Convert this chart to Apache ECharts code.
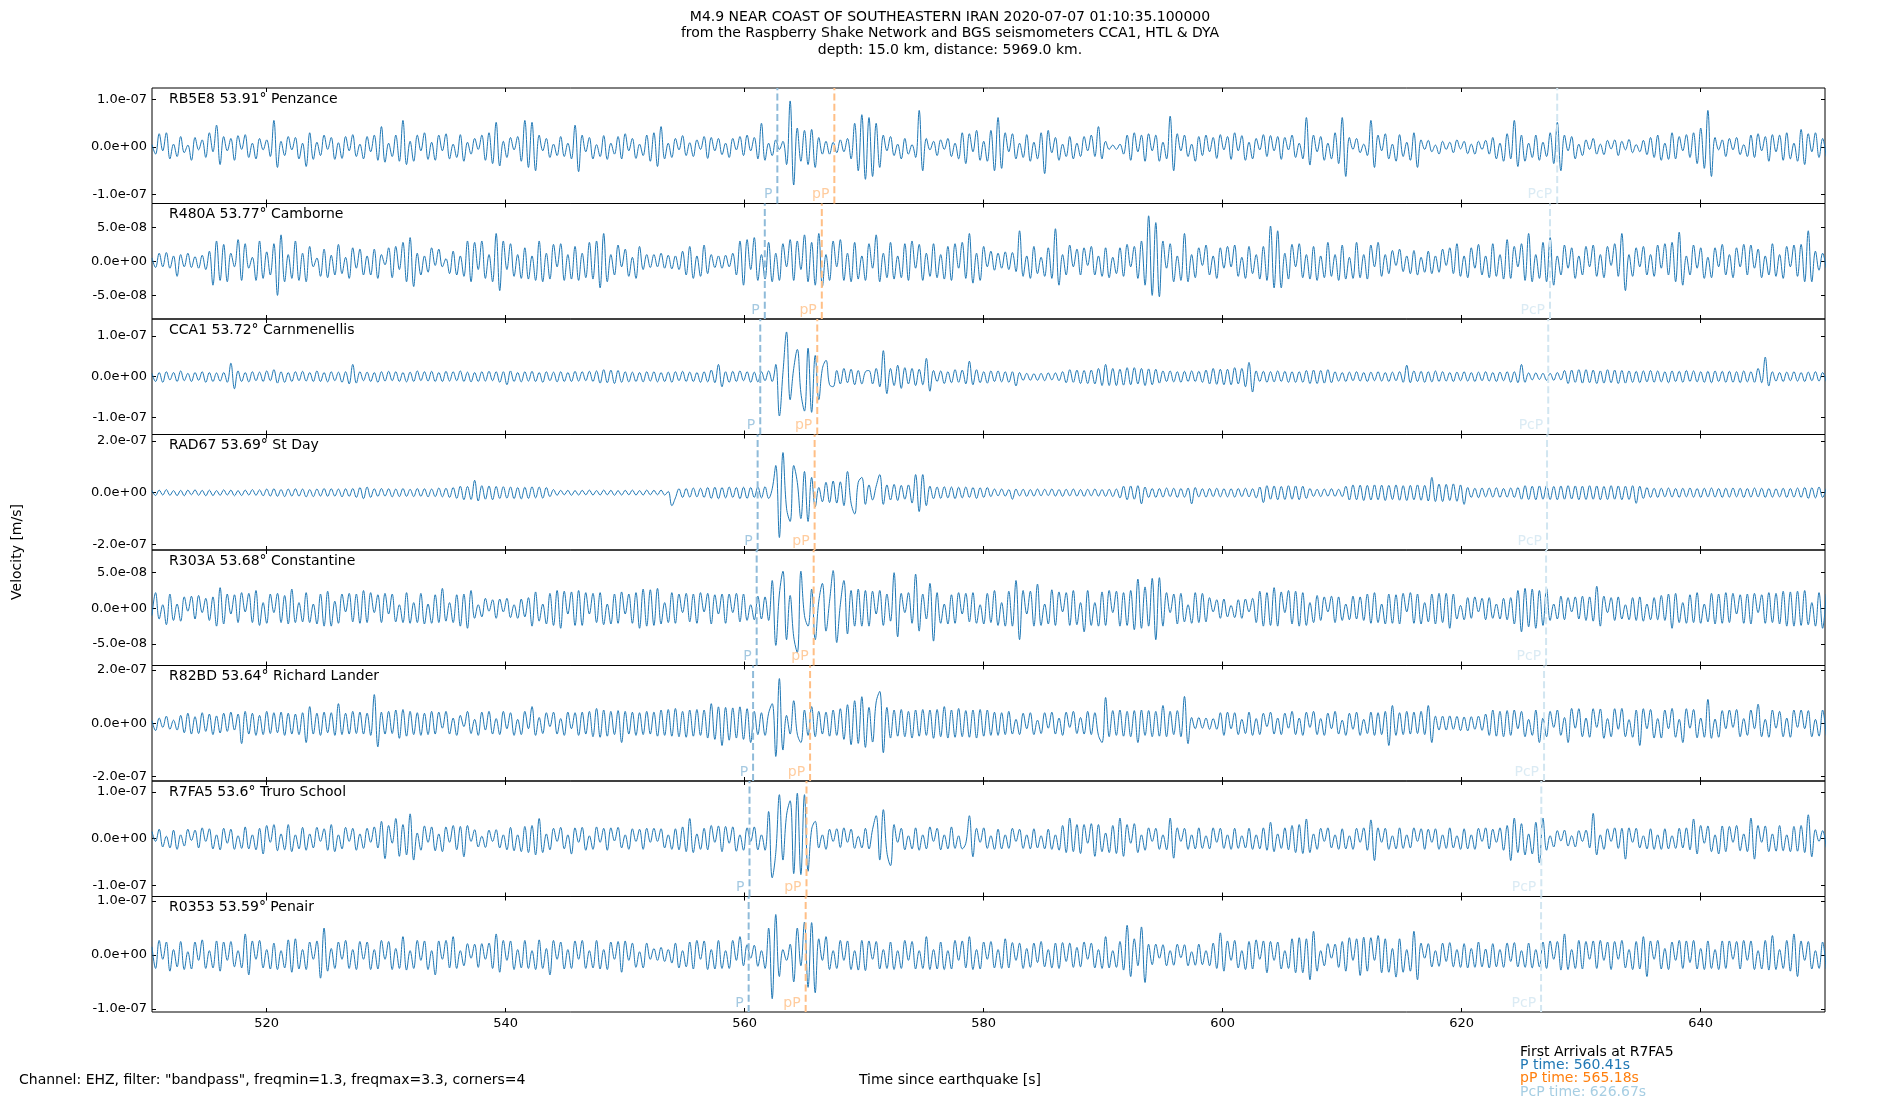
<!DOCTYPE html>
<html><head><meta charset="utf-8">
<script src="https://cdn.jsdelivr.net/npm/echarts@6/dist/echarts.min.js"></script>
<style>html,body{margin:0;padding:0;background:#fff}#chart{width:1900px;height:1100px}</style>
</head><body><div id="chart"></div>
<script>
// ---------------- data ----------------
const T0 = 510.41;          // time of first sample [s]
const DT = 0.3;             // sample spacing [s]
const X_MIN = 510.41, X_MAX = 650.41;
const X_TICKS = [520, 540, 560, 580, 600, 620, 640];
const STATIONS = ['RB5E8 53.91° Penzance','R480A 53.77° Camborne','CCA1 53.72° Carnmenellis','RAD67 53.69° St Day',
  'R303A 53.68° Constantine','R82BD 53.64° Richard Lander','R7FA5 53.6° Truro School','R0353 53.59° Penair'];
// y ranges and ticks in nm/s
const Y_MIN = [-118.9, -84.7, -142.6, -221.2, -80.2, -216, -124, -105.7];
const Y_MAX = [124.2, 85.1, 141.9, 224.7, 81.8, 217, 123.3, 108.4];
const Y_TICKS = [[-100,0,100],[-50,0,50],[-100,0,100],[-200,0,200],[-50,0,50],[-200,0,200],[-100,0,100],[-100,0,100]];
const P_TIMES   = [562.74, 561.69, 561.31, 561.09, 561.01, 560.71, 560.41, 560.34];
const PP_TIMES  = [567.51, 566.46, 566.08, 565.86, 565.78, 565.48, 565.18, 565.11];
const PCP_TIMES = [628.0, 627.4, 627.25, 627.15, 627.07, 626.9, 626.67, 626.65];
const ARRIVAL_NAMES = ['P', 'pP', 'PcP'];
const LEGEND_LINES = ['First Arrivals at R7FA5', 'P time: 560.41s', 'pP time: 565.18s', 'PcP time: 626.67s'];

// velocity traces, nm/s, one value every DT seconds from T0
const WAVE_RB5E8 = [
5,-15,28,-8,30,-25,6,-20,22,-12,4,-28,20,-6,15,-22,30,-10,46,-37,
22,-8,18,-28,24,-5,26,-22,8,-25,18,-6,15,-20,56,-43,12,-18,22,-6,
20,-25,8,-41,30,-26,10,-18,25,-5,20,-26,9,-24,22,-8,26,-20,6,-25,
22,-10,25,-28,43,-32,8,-20,25,-30,56,-37,12,-30,25,-8,30,-26,10,-28,
25,-8,28,-25,6,-22,26,-30,10,-15,18,-5,25,-28,30,-35,52,-40,12,-22,
20,-6,22,-30,56,-43,52,-50,25,-8,18,-22,6,-18,22,-20,8,-25,46,-52,
25,-10,20,-25,5,-20,24,-26,8,-15,22,-25,28,-8,18,-24,6,-18,25,-30,
30,-41,43,-25,8,-22,18,-6,24,-18,9,-20,15,-5,22,-24,20,-8,18,-16,
8,-22,18,-6,22,-18,25,-8,20,-25,50,-28,8,-18,15,-5,12,-37,97,-80,
40,-30,35,-37,37,-43,20,-15,12,-15,10,-12,15,-10,18,-25,50,-50,68,-68,
62,-62,50,-43,25,-8,22,-18,6,-25,18,-15,5,-22,77,-50,18,-6,12,-18,
15,-5,18,-20,8,-25,30,-35,28,-10,35,-28,12,-30,35,-50,62,-45,30,-10,
28,-25,8,-22,26,-30,10,-25,30,-56,35,-12,20,-28,6,-20,22,-25,8,-20,
22,-8,25,-20,43,-25,12,-5,4,-5,6,-15,25,-28,30,-10,25,-30,28,-8,
25,-30,10,-25,65,-50,28,-8,25,-20,6,-30,22,-18,25,-10,20,-24,26,-6,
22,-26,30,-8,24,-28,10,-25,18,-6,26,-20,24,-8,22,-26,20,-6,25,-22,
8,-25,62,-38,25,-10,22,-28,8,-25,30,-35,62,-62,20,-5,18,-12,6,-18,
56,-43,25,-8,28,-25,6,-30,26,-20,10,-28,30,-43,15,-5,14,-10,4,-15,
12,-5,10,-12,15,-4,12,-14,6,-15,12,-5,14,-15,20,-25,8,-30,28,-25,
56,-41,25,-30,8,-22,25,-28,10,-20,30,-35,52,-50,25,-8,22,-25,6,-18,
15,-5,18,-15,6,-16,14,-4,15,-18,12,-6,16,-12,5,-10,14,-16,20,-22,
25,-28,8,-26,30,-25,22,-8,26,-22,30,-35,40,-45,77,-62,20,-6,15,-20,
18,-6,20,-16,5,-20,25,-22,28,-8,22,-30,26,-10,25,-28,30,-25,8,-30,
37,-37,28,-10,30,-22,18,-20];
const WAVE_R480A = [
5,-9,12,-8,13,-10,8,-22,10,-8,12,-9,7,-10,9,-12,15,-35,30,-28,
25,-30,12,-8,32,-28,26,-10,6,-28,30,-25,14,-20,26,-50,39,-30,10,-25,
30,-28,12,-30,22,-8,5,-22,18,-24,9,-20,25,-18,6,-25,20,-10,18,-20,
8,-20,18,-25,10,-5,20,-24,22,-12,28,-30,35,-37,12,-20,8,-16,20,-6,
18,-8,4,-18,15,-20,8,-22,30,-30,28,-12,30,-25,10,-30,41,-43,30,-12,
26,-22,10,-25,20,-26,8,-28,30,-30,12,-26,25,-8,26,-28,10,-26,22,-28,
12,-24,28,-26,30,-39,41,-30,10,-20,24,-8,18,-22,6,-25,22,-12,10,-9,
10,-8,12,-10,9,-11,8,-12,15,-20,22,-25,8,-22,24,-18,10,-9,8,-10,
9,-8,12,-20,30,-35,32,-12,35,-28,10,-26,28,-30,12,-28,26,-8,32,-28,
30,-12,39,-30,28,-35,41,-37,10,-28,30,-8,32,-28,12,-30,28,-26,8,-28,
26,-10,39,-30,12,-24,28,-26,8,-24,26,-28,30,-10,25,-28,12,-22,26,-24,
10,-26,22,-28,26,-10,28,-25,41,-32,12,-28,22,-8,15,-13,12,-10,14,-12,
13,-15,45,-22,8,-25,22,-18,6,-22,20,-25,48,-35,10,-20,24,-8,18,-20,
20,-6,22,-20,8,-22,20,-24,6,-18,20,-22,25,-8,22,-25,30,-35,67,-50,
57,-52,30,-10,26,-30,8,-28,41,-30,10,-24,20,-6,24,-20,8,-25,20,-10,
22,-8,24,-22,6,-25,22,-18,10,-26,22,-28,52,-39,45,-39,12,-26,25,-8,
26,-24,10,-26,22,-28,8,-24,28,-22,10,-28,24,-26,6,-25,28,-24,10,-26,
24,-8,28,-22,10,-18,16,-6,18,-15,8,-18,16,-20,6,-16,15,-18,8,-16,
18,-6,20,-18,26,-22,8,-24,20,-10,25,-20,8,-24,26,-22,10,-26,32,-25,
22,-8,26,-28,41,-30,10,-25,28,-30,35,-35,8,-20,24,-10,20,-25,8,-20,
22,-8,24,-22,10,-24,22,-6,26,-22,41,-43,10,-22,20,-8,22,-20,10,-22,
24,-10,26,-20,28,-30,43,-35,8,-20,24,-10,20,-25,6,-24,20,-8,25,-20,
10,-24,20,-8,25,-20,24,-10,18,-24,8,-20,26,-22,10,-25,22,-8,24,-22,
25,-30,45,-30,15,-13,12,-10];
const WAVE_CCA1 = [
8,-12,10,-14,12,-8,10,-12,14,-10,8,-12,10,-9,12,-14,10,-12,9,-11,
10,-14,33,-30,14,-12,10,-13,12,-10,11,-12,14,-10,17,-16,12,-14,10,-12,
12,-10,13,-11,10,-12,14,-12,10,-13,12,-10,11,-14,12,-18,30,-16,12,-10,
11,-12,10,-14,12,-11,13,-10,12,-12,10,-13,11,-12,14,-10,12,-11,13,-12,
10,-12,13,-11,12,-10,14,-12,11,-13,10,-12,12,-11,13,-10,12,-14,12,-20,
14,-12,10,-13,12,-11,13,-12,10,-14,12,-10,11,-13,12,-12,10,-12,13,-11,
12,-10,13,-12,14,-16,17,-15,16,-17,15,-14,12,-13,11,-12,10,-13,12,-11,
12,-13,10,-12,11,-14,12,-10,13,-12,11,-12,10,-14,12,-13,16,-15,30,-25,
12,-14,13,-12,14,-10,12,-14,11,-13,12,-10,14,-12,30,-97,10,110,-57,20,
67,-40,-85,70,-88,52,-57,20,40,-20,-25,15,-18,20,-15,18,-20,15,-18,12,
15,-18,20,-25,64,-42,20,-22,28,-29,22,-18,20,-22,18,-20,45,-36,15,-12,
14,-17,12,-15,17,-14,16,-18,38,-20,17,-15,12,-16,14,-12,14,-13,12,-14,
12,-23,10,-9,8,-9,7,-9,8,-10,9,-8,9,-10,12,-15,17,-14,16,-17,
15,-17,16,-18,20,-22,30,-22,20,-22,18,-21,22,-20,22,-18,20,-22,19,-20,
18,-16,14,-12,14,-13,12,-14,13,-12,14,-12,13,-14,16,-18,20,-19,18,-20,
18,-20,22,-18,20,-25,35,-38,14,-12,13,-14,12,-13,14,-12,13,-14,12,-14,
12,-14,15,-17,16,-17,15,-16,17,-15,12,-11,10,-12,11,-10,12,-11,10,-12,
11,-10,12,-11,10,-12,11,-10,12,-14,28,-15,14,-12,13,-14,12,-13,14,-12,
12,-11,10,-12,11,-10,12,-11,10,-12,11,-10,12,-11,10,-12,11,-10,12,-14,
12,-15,30,-14,9,-8,9,-7,8,-9,8,-9,10,-8,15,-17,16,-14,17,-16,
17,-15,16,-17,14,-16,17,-15,16,-17,15,-16,14,-14,13,-15,14,-13,15,-14,
14,-13,12,-15,14,-12,13,-14,15,-12,14,-13,12,-14,13,-15,14,-12,13,-14,
13,-14,12,-15,14,-13,12,-14,20,-15,48,-23,12,-11,10,-12,11,-10,12,-11,
10,-12,11,-10,12,-11,10,-12];
const WAVE_RAD67 = [
8,-11,10,-9,12,-10,8,-11,9,-12,10,-8,11,-10,9,-12,10,-11,8,-10,
11,-9,10,-12,8,-11,10,-9,12,-10,11,-12,14,-13,15,-14,12,-15,14,-13,
15,-13,14,-16,12,-15,14,-13,16,-14,15,-13,14,-16,15,-14,16,-18,20,-23,
22,-18,15,-14,16,-13,15,-16,14,-15,16,-14,13,-15,16,-14,15,-16,14,-15,
18,-16,17,-18,20,-22,25,-27,24,-26,48,-32,27,-25,26,-27,24,-22,23,-21,
22,-23,20,-24,21,-22,23,-20,22,-21,20,-15,12,-10,9,-8,9,-10,8,-9,
9,-8,10,-9,8,-9,10,-8,9,-10,8,-9,9,-8,10,-9,8,-9,10,-8,
9,-8,10,-9,5,-50,-20,15,-18,16,-17,18,-16,17,-18,20,-22,21,-23,20,
-20,22,-18,20,-23,21,-22,20,-18,22,-20,23,-22,15,105,-173,155,-60,-111,105,
40,-100,82,-111,59,-55,20,-35,40,-38,45,-40,42,-50,82,-40,-82,40,59,-45,
30,-28,25,70,-45,30,-28,32,-30,28,-25,30,-40,70,-73,70,-50,25,-23,22,
-22,23,-20,22,-23,21,-20,22,-18,20,-22,19,-18,20,-15,14,-12,14,-13,12,
-25,14,-12,13,-14,12,-13,14,-12,13,-11,14,-13,12,-14,13,-12,14,-13,12,
-14,13,-12,14,-13,12,-14,13,-15,14,-20,25,-27,26,-25,27,-43,22,-18,16,
-18,16,-17,18,-15,17,-18,16,-17,18,-43,20,-16,15,-17,16,-15,17,-16,15,
-16,15,-17,16,-15,17,-16,15,-20,22,-38,27,-25,26,-27,24,-26,27,-25,26,
-27,25,-22,16,-14,13,-15,14,-13,15,-14,13,-15,25,-28,30,-27,29,-30,28,
-28,30,-27,29,-30,28,-26,30,-29,27,-30,28,-27,30,-29,28,-32,59,-34,33,
-34,32,-30,34,-33,30,-45,20,-18,17,-19,18,-16,18,-17,19,-18,16,-17,18,
-18,20,-25,27,-26,25,-27,26,-25,27,-26,24,-27,26,-25,27,-24,26,-27,25,
-26,27,-25,26,-27,24,-26,27,-25,26,-27,25,-26,27,-41,25,-22,20,-18,17,
-18,17,-16,18,-17,16,-18,17,-16,18,-17,16,-18,17,-16,18,-17,16,-18,17,
-17,18,-16,17,-18,16,-17,18,-16,17,-18,16,-17,15,-16,17,-18,16,-17,18,
-18,20,-22,19,-20,22,-18,16];
const WAVE_R303A = [
-10,22,-15,5,-23,20,-17,6,-18,16,-4,17,-15,18,-6,14,-17,16,-25,29,
-22,20,-8,19,-20,22,-5,21,-20,25,-24,8,-21,20,-6,21,-20,18,-22,27,
-20,8,-19,22,-20,6,-22,20,-25,24,-25,10,-21,20,-5,21,-19,20,-21,25,
-20,22,-6,19,-20,21,-8,20,-19,5,-20,22,-21,8,-20,21,-22,6,-21,19,
-20,28,-18,8,-20,19,-25,20,-28,25,-14,5,-12,14,-4,12,-14,13,-5,14,
-13,5,-14,13,-12,15,-25,23,-18,6,-22,21,-24,25,-28,24,-8,23,-24,25,
-24,22,-8,21,-20,22,-23,6,-22,20,-21,23,-8,20,-21,22,-28,27,-25,26,
-24,28,-22,8,-20,22,-21,20,-6,21,-19,20,-21,22,-5,21,-22,19,-8,20,
-21,20,-6,21,-19,20,-17,5,-16,17,-15,16,-17,39,-52,20,52,-44,18,-40,
-62,52,-10,-25,27,-44,10,35,-32,10,53,-48,5,39,-36,25,-25,27,-25,25,
-25,24,-8,25,-24,20,-18,50,-40,21,-6,22,-21,48,-32,20,-15,35,-46,22,
-21,6,-22,19,-21,22,-8,21,-19,22,-21,5,-22,21,-20,25,-24,8,-25,24,
-25,39,-44,25,-8,24,-25,34,-24,6,-22,26,-24,23,-5,22,-24,25,-23,8,
-33,25,-24,8,-25,23,-24,25,-6,24,-25,22,-24,25,-30,41,-28,30,-25,42,
-44,43,-25,22,-6,20,-22,21,-19,5,-21,22,-20,21,-19,15,-5,12,-14,13,
-12,4,-13,12,-14,13,-5,14,-20,24,-25,22,-24,29,-25,23,-6,25,-22,24,
-25,22,-24,8,-20,18,-17,16,-5,17,-20,16,-17,6,-16,17,-15,16,-17,20,
-21,22,-20,6,-22,20,-21,19,-22,21,-5,22,-21,20,-22,8,-19,20,-22,21,
-20,21,-28,20,-15,4,-16,15,-14,16,-5,14,-16,15,-14,6,-15,14,-16,15,
-22,25,-33,28,-26,27,-28,25,-24,28,-17,6,-15,17,-16,15,-5,16,-15,17,
-17,16,-18,31,-25,17,-6,15,-17,16,-15,5,-16,15,-17,16,-18,6,-16,15,
-16,18,-17,20,-28,21,-20,8,-21,19,-20,22,-21,6,-19,21,-22,20,-21,22,
-20,21,-8,19,-21,20,-22,21,-6,19,-21,22,-20,21,-22,24,-25,23,-25,24,
-24,25,-23,8,-25,22,-28,20];
const WAVE_R82BD = [
10,-27,20,-15,27,-22,12,-25,30,-35,38,-40,25,-38,40,-30,35,-42,28,-36,
38,-30,42,-25,35,-76,45,-40,38,-45,30,-42,45,-38,40,-35,42,-45,38,-40,
35,-42,40,-72,63,-40,38,-45,42,-35,40,-45,74,-42,38,-40,45,-38,42,-40,
38,-45,108,-88,42,-40,45,-38,50,-56,52,-48,45,-42,40,-45,38,-42,45,-40,
42,-18,45,-40,20,-45,30,-12,45,-38,15,-45,42,-25,45,-40,18,-42,45,-20,
40,-45,15,-42,45,-20,63,-45,22,-38,40,-12,42,-40,18,-45,42,-20,40,-45,
42,-40,45,-50,56,-52,50,-48,45,-42,48,-72,45,-40,42,-45,40,-42,45,-40,
42,-48,50,-45,52,-48,56,-50,45,-52,50,-48,52,-45,50,-55,74,-60,62,-83,
60,-63,58,-55,62,-60,55,-72,45,-42,40,-45,38,74,-124,168,-100,30,-40,85,
-40,-72,50,-45,63,-50,45,-40,42,-48,50,-45,55,-60,70,-80,85,-75,100,-90,
60,-70,80,120,-110,60,-55,50,-48,52,-50,45,-55,50,-48,52,-45,50,-56,52,
-50,63,-55,50,-52,56,-50,48,-52,50,-55,52,-48,50,-45,42,-45,40,-42,45,
-40,15,-42,38,-20,40,-42,12,-38,40,-18,42,-40,20,-45,42,-15,45,-38,22,
-40,45,-42,40,-45,-72,97,-50,48,-45,50,-48,45,-50,48,-72,50,-45,48,-50,
45,-48,67,-50,45,-42,48,-50,101,-76,22,-20,22,-18,20,-22,18,-22,40,-45,
42,-20,40,-42,15,-38,42,-45,18,-42,38,-12,42,-40,20,-42,38,-18,45,-42,
20,-45,42,-15,45,-42,18,-45,38,-20,45,-40,12,-45,38,-22,42,-45,15,-38,
42,-45,40,-42,45,-83,67,-45,40,-42,45,-40,42,-38,45,-42,67,-72,27,-25,
27,-25,28,-22,26,-27,24,-28,25,-22,27,-26,35,-45,50,-48,45,-50,48,-45,
50,-20,45,-50,15,-45,50,-72,20,-50,45,-15,50,-45,22,-72,56,-18,55,-50,
20,-52,55,-15,54,-56,18,-50,55,-22,56,-50,14,-52,50,-83,55,-20,52,-55,
18,-55,50,-20,56,-52,15,-72,55,-18,52,-54,20,-52,90,-56,16,-52,48,-20,
50,-15,52,-50,18,-45,50,-20,72,-50,15,-52,50,-18,45,-50,20,-52,50,-15,
50,-20,48,-50,15,-48,50,-45];
const WAVE_R7FA5 = [
15,-6,20,-18,5,-20,18,-23,8,-16,20,-4,18,-20,23,-6,21,-22,8,-24,
22,-10,20,-23,6,-21,25,-22,8,-24,22,-33,28,-8,30,-26,10,-24,30,-28,
8,-22,24,-25,10,-20,24,-6,21,-25,30,-28,8,-22,24,-6,22,-25,10,-21,
22,-8,25,-20,37,-43,28,-10,43,-38,30,-35,53,-46,12,-25,27,-8,25,-26,
10,-28,25,-8,28,-24,26,-39,28,-6,19,-18,5,-19,18,-6,19,-20,8,-24,
24,-26,8,-28,26,-30,28,-35,43,-30,10,-24,22,-6,24,-22,8,-33,23,-8,
24,-25,6,-23,25,-8,22,-25,23,-5,24,-20,8,-23,21,-6,20,-23,22,-8,
22,-6,21,-20,8,-23,21,-24,25,-28,43,-30,10,-23,22,-24,28,-8,27,-28,
26,-10,25,-27,8,-25,23,-6,25,-24,8,-25,58,-84,-30,94,-46,50,81,-75,
97,-77,94,-70,20,37,-20,8,-23,20,-6,21,-19,23,-8,20,-21,5,-20,22,
-22,20,49,-46,62,-30,-58,30,-8,22,-24,6,-22,23,-25,8,-22,25,-6,22,
-24,8,-22,25,-21,6,-22,-10,49,-39,22,-8,23,-21,6,-23,20,-22,8,-21,
22,-6,20,-21,8,-22,21,-20,6,-22,20,-23,8,-25,28,-30,44,-28,30,-32,
30,-10,32,-38,30,-28,12,-30,28,-32,44,-38,30,-10,32,-30,8,-25,23,-6,
22,-23,8,-24,44,-42,23,-6,22,-23,8,-22,23,-21,6,-22,23,-8,22,-21,
8,-23,22,-21,6,-20,22,-23,8,-22,23,-25,35,-28,10,-21,23,-24,28,-30,
30,-32,42,-30,10,-23,22,-6,23,-20,8,-23,21,-22,6,-23,22,-8,23,-25,
40,-47,23,-8,22,-23,6,-22,23,-21,8,-20,23,-6,21,-23,20,-8,21,-23,
8,-21,23,-20,6,-23,21,-22,8,-23,22,-6,23,-22,20,-8,23,-25,28,-47,
44,-30,32,-35,10,-33,35,-52,44,-25,6,-18,17,-5,18,-16,6,-18,17,-6,
18,-20,54,-35,8,-23,21,-6,23,-21,22,-44,23,-8,22,-20,6,-22,21,-23,
8,-23,21,-22,6,-21,22,-20,23,-24,42,-33,28,-10,27,-28,8,-33,27,-28,
26,-8,28,-26,10,-28,44,-44,28,-8,27,-28,10,-27,28,-26,8,-28,26,-27,
28,-30,51,-39,19,-6,17,-19];
const WAVE_R0353 = [
15,-25,27,-8,24,-30,10,-22,25,-27,6,-26,24,-10,28,-25,8,-24,26,-30,
24,-10,25,-22,8,-24,39,-37,26,-8,27,-24,10,-26,22,-27,8,-24,28,-32,
30,-26,10,-27,24,-8,26,-43,50,-30,12,-25,24,-8,27,-25,10,-27,25,-8,
24,-27,10,-26,27,-8,25,-27,12,-25,34,-28,8,-25,27,-10,26,-27,8,-37,
26,-8,27,-24,34,-25,8,-20,21,-6,20,-23,21,-8,22,-25,39,-32,27,-10,
26,-27,10,-24,27,-25,8,-27,28,-25,12,-37,27,-8,24,-26,10,-25,26,-8,
27,-25,8,-24,27,-26,10,-27,24,-8,25,-32,26,-10,22,-23,6,-24,22,-8,
12,-10,14,-12,10,-15,22,-24,8,-22,24,-26,27,-8,26,-27,10,-26,27,-25,
8,-25,27,-10,34,-20,19,-6,18,-21,8,-25,50,-81,75,-40,10,-10,20,-50,
50,-20,61,-60,60,-70,30,-10,34,-27,8,-25,27,-10,26,-27,8,-28,27,-29,
26,-8,25,-26,10,-25,24,-27,8,-25,27,-10,25,-26,8,-25,34,-27,10,-26,
24,-27,8,-26,27,-10,26,-24,34,-27,10,-26,24,-8,25,-24,10,-25,30,-24,
23,-10,22,-25,12,-23,22,-14,25,-22,10,-24,22,-25,23,-12,22,-23,14,-22,
24,-8,22,-24,10,-25,34,-24,8,-23,25,-28,55,-40,30,-20,52,-51,20,-18,
20,-6,19,-20,8,-19,20,-5,19,-20,6,-19,20,-18,8,-20,22,-25,41,-30,
26,-10,27,-24,8,-27,25,-26,28,-8,26,-33,25,-10,24,-26,8,-25,30,-33,
32,-33,30,-46,44,-30,8,-20,21,-6,20,-23,25,-30,32,-10,30,-38,33,-30,
32,-10,36,-33,30,-32,12,-41,30,-32,10,-30,44,-46,22,-6,21,-22,8,-21,
22,-12,23,-22,10,-23,21,-24,12,-23,24,-22,11,-24,21,-22,10,-23,22,-12,
23,-22,8,-23,22,-24,10,-22,24,-25,26,-8,25,-28,39,-27,10,-25,27,-26,
25,-8,26,-25,27,-10,24,-27,25,-8,27,-24,10,-27,25,-26,34,-40,26,-8,
27,-26,12,-27,24,-10,27,-25,26,-14,27,-26,12,-27,26,-25,10,-27,26,-25,
26,-8,25,-26,27,-10,26,-27,8,-26,27,-28,36,-27,10,-25,27,-30,39,-40,
26,-10,25,-26,8,-25,24,-26];
const WAVES = [WAVE_RB5E8, WAVE_R480A, WAVE_CCA1, WAVE_RAD67, WAVE_R303A, WAVE_R82BD, WAVE_R7FA5, WAVE_R0353];

// ---------------- layout / style ----------------
const FONT = "'DejaVu Sans', sans-serif";
const PANEL_TOP = 88, PANEL_H = 115.5, LEFT = 152, RIGHT = 75;
const ARR_STYLE = [
  {times: P_TIMES,   line: '#8fbbd9'},
  {times: PP_TIMES,  line: '#ffbf86'},
  {times: PCP_TIMES, line: '#d2e6f1'}
];
const LEGEND_COLORS = ['#000000', '#1f77b4', '#ff7f0e', '#a6cee3'];

function sci(v) {
  if (Math.abs(v) < 1e-30) return '0.0e+00';
  return v.toExponential(1).replace(/e([+-])(\d)$/, 'e$10$2');
}

const grids = [], xAxes = [], yAxes = [], series = [], graphics = [];
for (let i = 0; i < 8; i++) {
  const top = PANEL_TOP + i * PANEL_H;
  grids.push({left: LEFT, right: RIGHT, top: top, height: PANEL_H, show: true,
    borderColor: '#000', borderWidth: 1, backgroundColor: 'transparent', containLabel: false, outerBoundsMode: 'none'});
  const xTick = {show: true, inside: true, length: 4, lineStyle: {color: '#000', width: 1}, customValues: X_TICKS};
  xAxes.push({type: 'value', gridIndex: i, position: 'bottom', min: X_MIN, max: X_MAX,
    axisLine: {show: false, onZero: false}, splitLine: {show: false}, axisTick: xTick,
    axisLabel: {show: i === 7, customValues: X_TICKS, color: '#000', fontSize: 13, fontFamily: FONT, margin: 5,
      formatter: v => String(Math.round(v))}});
  xAxes.push({type: 'value', gridIndex: i, position: 'top', min: X_MIN, max: X_MAX,
    axisLine: {show: false, onZero: false}, splitLine: {show: false}, axisTick: xTick, axisLabel: {show: false}});
  const yTick = {show: true, inside: true, length: 4, lineStyle: {color: '#000', width: 1}, customValues: Y_TICKS[i]};
  yAxes.push({type: 'value', gridIndex: i, position: 'left', min: Y_MIN[i], max: Y_MAX[i],
    axisLine: {show: false, onZero: false}, splitLine: {show: false}, axisTick: yTick,
    axisLabel: {show: true, customValues: Y_TICKS[i], color: '#000', fontSize: 13, fontFamily: FONT, margin: 5,
      formatter: v => sci(v * 1e-9)}});
  yAxes.push({type: 'value', gridIndex: i, position: 'right', min: Y_MIN[i], max: Y_MAX[i],
    axisLine: {show: false, onZero: false}, splitLine: {show: false}, axisTick: yTick, axisLabel: {show: false}});

  series.push({type: 'line', xAxisIndex: 2 * i, yAxisIndex: 2 * i,
    data: WAVES[i].map((v, k) => [T0 + k * DT, v]),
    showSymbol: false, symbol: 'none', smooth: 0.4, silent: true, z: 2,
    lineStyle: {color: '#1f77b4', width: 1}, itemStyle: {color: '#1f77b4'}});
  ARR_STYLE.forEach(a => {
    series.push({type: 'line', xAxisIndex: 2 * i, yAxisIndex: 2 * i,
      data: [[a.times[i], Y_MIN[i]], [a.times[i], Y_MAX[i]]],
      symbol: 'none', showSymbol: false, silent: true, z: 3,
      lineStyle: {color: a.line, width: 2, type: [7, 3.3]}});
  });
  series.push({type: 'scatter', xAxisIndex: 2 * i, yAxisIndex: 2 * i, symbolSize: 0, silent: true, clip: false, z: 4,
    data: ARR_STYLE.map((a, k) => ({value: [a.times[i], Y_MIN[i]],
      label: {show: true, formatter: ARRIVAL_NAMES[k], color: a.line}})),
    label: {show: true, position: 'left', distance: 5, offset: [0, -9], fontSize: 14, fontFamily: FONT}});

  graphics.push({type: 'text', x: 169, y: top + 11, silent: true,
    style: {text: STATIONS[i], fill: '#000', font: '14px ' + FONT, textAlign: 'left', textVerticalAlign: 'middle'}});
}

const TITLE_LINES = ['M4.9 NEAR COAST OF SOUTHEASTERN IRAN 2020-07-07 01:10:35.100000',
  'from the Raspberry Shake Network and BGS seismometers CCA1, HTL & DYA',
  'depth: 15.0 km, distance: 5969.0 km.'];
TITLE_LINES.forEach((t, k) => graphics.push({type: 'text', x: 950, y: 17 + k * 16.5, silent: true,
  style: {text: t, fill: '#000', font: '14px ' + FONT, textAlign: 'center', textVerticalAlign: 'middle'}}));
graphics.push({type: 'text', x: 17, y: 552, rotation: Math.PI / 2, silent: true,
  style: {text: 'Velocity [m/s]', fill: '#000', font: '14px ' + FONT, textAlign: 'center', textVerticalAlign: 'middle'}});
graphics.push({type: 'text', x: 19, y: 1080, silent: true,
  style: {text: 'Channel: EHZ, filter: "bandpass", freqmin=1.3, freqmax=3.3, corners=4', fill: '#000', font: '14px ' + FONT, textAlign: 'left', textVerticalAlign: 'middle'}});
graphics.push({type: 'text', x: 950, y: 1080, silent: true,
  style: {text: 'Time since earthquake [s]', fill: '#000', font: '14px ' + FONT, textAlign: 'center', textVerticalAlign: 'middle'}});
LEGEND_LINES.forEach((t, k) => graphics.push({type: 'text', x: 1520, y: 1052 + k * 13.3, silent: true,
  style: {text: t, fill: LEGEND_COLORS[k], font: '14px ' + FONT, textAlign: 'left', textVerticalAlign: 'middle'}}));

const chart = echarts.init(document.getElementById('chart'), null, {renderer: 'canvas'});
chart.setOption({
  animation: false, backgroundColor: '#fff',
  grid: grids, xAxis: xAxes, yAxis: yAxes, series: series, graphic: graphics
});
</script></body></html>
